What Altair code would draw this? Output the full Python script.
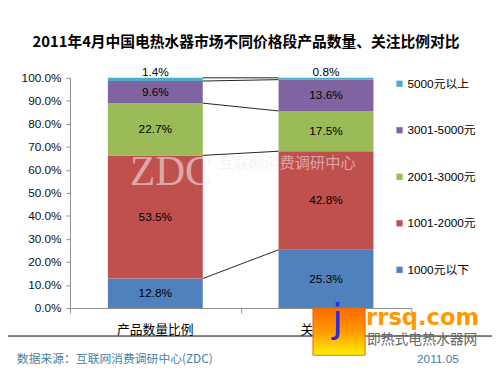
import altair as alt
import pandas as pd

categories = ["产品数量比例", "关注比例"]
series = ["1000元以下", "1001-2000元", "2001-3000元", "3001-5000元", "5000元以上"]
values_qty = [12.8, 53.5, 22.7, 9.6, 1.4]
values_att = [25.3, 42.8, 17.5, 13.6, 0.8]
colors = ["#4F81BD", "#C0504D", "#9BBB59", "#8064A2", "#4BACC6"]

FONT = "Liberation Sans, Arial, Noto Sans CJK SC"
CJK = "Noto Sans CJK SC"
HALF = 0.278

rows = []
for ci, (cat, vals) in enumerate(zip(categories, [values_qty, values_att])):
    cum = 0.0
    for si, (s, v) in enumerate(zip(series, vals)):
        rows.append(dict(cat=cat, idx=ci, series=s, order=si, value=v,
                         start=cum / 100, end=(cum + v) / 100,
                         mid=(cum + v / 2) / 100, label=f"{v:.1f}%"))
        cum += v
df = pd.DataFrame(rows)

conn = []
for si, s in enumerate(series):
    a = df[(df.idx == 0) & (df.order == si)].iloc[0]
    b = df[(df.idx == 1) & (df.order == si)].iloc[0]
    conn.append(dict(series=s, y1=a.end, y2=b.end))
cdf = pd.DataFrame(conn)

cat_df = pd.DataFrame({"cat": categories, "idx": list(range(len(categories)))})

xscale = alt.Scale(domain=[0, 2], nice=False, zero=False)
yscale = alt.Scale(domain=[0, 1], nice=False, zero=False)
xaxis = alt.Axis(values=[0, 1, 2], labels=False, title=None, tickSize=5,
                 domainColor="#8c8c8c", tickColor="#8c8c8c", grid=False)
yaxis = alt.Axis(values=[i / 10 for i in range(11)], format=".1%", title=None,
                 tickSize=4, labelPadding=5, labelFontSize=12, labelColor="#111",
                 labelFont=FONT, domainColor="#8c8c8c", tickColor="#8c8c8c",
                 grid=False)

base = alt.Chart(df).transform_calculate(
    x0=f"datum.idx + 0.5 - {HALF}", x1=f"datum.idx + 0.5 + {HALF}", xc="datum.idx + 0.5"
)

bars = base.mark_rect().encode(
    x=alt.X("x0:Q", scale=xscale, axis=xaxis),
    x2="x1:Q",
    y=alt.Y("start:Q", scale=yscale, axis=yaxis),
    y2="end:Q",
    color=alt.Color("series:N",
                    scale=alt.Scale(domain=series, range=colors),
                    legend=alt.Legend(orient="none", legendX=329, legendY=0, title=None,
                                      values=series[::-1], symbolType="square",
                                      symbolSize=40, symbolStrokeWidth=0,
                                      labelFontSize=12, labelFont=FONT, labelColor="#000",
                                      labelOffset=2, rowPadding=35.3)),
    order="order:Q",
)

labels_main = base.transform_filter("datum.order < 4").mark_text(
    fontSize=12, font=FONT, color="#000"
).encode(
    x=alt.X("xc:Q", scale=xscale, axis=xaxis),
    y=alt.Y("mid:Q", scale=yscale, axis=yaxis),
    text="label:N",
)
labels_top = base.transform_filter("datum.order == 4").mark_text(
    fontSize=12, font=FONT, color="#000", dy=-7
).encode(
    x=alt.X("xc:Q", scale=xscale, axis=xaxis),
    y=alt.Y("mid:Q", scale=yscale, axis=yaxis),
    text="label:N",
)

connectors = alt.Chart(cdf).transform_calculate(
    xa=f"0.5 + {HALF}", xb=f"1.5 - {HALF}"
).mark_rule(color="#222", strokeWidth=1).encode(
    x=alt.X("xa:Q", scale=xscale, axis=xaxis),
    x2="xb:Q",
    y=alt.Y("y1:Q", scale=yscale, axis=yaxis),
    y2="y2:Q",
)

cat_labels = alt.Chart(cat_df).transform_calculate(xc="datum.idx + 0.5").mark_text(
    fontSize=13, font=CJK, color="#000", baseline="middle"
).encode(
    x=alt.X("xc:Q", scale=xscale, axis=xaxis),
    y=alt.value(256),
    text="cat:N",
)

watermark1 = alt.Chart(pd.DataFrame({"t": ["ZDC"]})).mark_text(
    font="Liberation Serif", fontSize=42, color="#f0f0f0", opacity=0.55,
    align="left", baseline="alphabetic"
).encode(x=alt.value(61), y=alt.value(109), text="t:N")
watermark2 = alt.Chart(pd.DataFrame({"t": ["互联网消费调研中心"]})).mark_text(
    font=CJK, fontSize=15.5, color="#ececec", opacity=0.55,
    align="left", baseline="middle"
).encode(x=alt.value(151), y=alt.value(87), text="t:N")

title = alt.Chart(pd.DataFrame({"t": ["2011年4月中国电热水器市场不同价格段产品数量、关注比例对比"]})).mark_text(
    font=CJK, fontSize=15, fontWeight="bold", color="#000", baseline="middle"
).encode(x=alt.value(179), y=alt.value(-36), text="t:N")

sep = alt.Chart(pd.DataFrame({"a": [0]})).mark_rule(color="#000", strokeWidth=1).encode(
    x=alt.value(-63), x2=alt.value(429), y=alt.value(262.5)
)

src = alt.Chart(pd.DataFrame({"t": ["数据来源：互联网消费调研中心(ZDC)"]})).mark_text(
    font=CJK, fontSize=12, color="#4A7EA2", align="left", baseline="middle"
).encode(x=alt.value(-54), y=alt.value(286), text="t:N")
date = alt.Chart(pd.DataFrame({"t": ["2011.05"]})).mark_text(
    font=FONT, fontSize=12, color="#4A7EA2", align="center", baseline="middle"
).encode(x=alt.value(374), y=alt.value(286), text="t:N")

logo_box = alt.Chart(pd.DataFrame({"a": [0]})).mark_rect(
    color=alt.LinearGradient(gradient="linear", x1=0, y1=0, x2=0, y2=1,
                             stops=[alt.GradientStop(color="#FF6A00", offset=0),
                                    alt.GradientStop(color="#FF9A00", offset=0.5),
                                    alt.GradientStop(color="#FFF000", offset=1)]),
    stroke="#E07000", strokeWidth=1
).encode(x=alt.value(247), x2=alt.value(300), y=alt.value(234), y2=alt.value(282))
logo_j = alt.Chart(pd.DataFrame({"t": ["j"]})).mark_text(
    font="DejaVu Sans", fontSize=40, color="#2B2BE6", baseline="alphabetic", align="center"
).encode(x=alt.value(272), y=alt.value(258), text="t:N")
logo_url = alt.Chart(pd.DataFrame({"t": ["rrsq.com"]})).mark_text(
    font="DejaVu Sans", fontSize=23, fontWeight="bold", color="#FF9900",
    baseline="alphabetic", align="left"
).encode(x=alt.value(301), y=alt.value(251), text="t:N")
logo_cn = alt.Chart(pd.DataFrame({"t": ["即热式电热水器网"]})).mark_text(
    font=CJK, fontSize=14, color="#666666", baseline="middle", align="left"
).encode(x=alt.value(302), y=alt.value(267), text="t:N")

chart = alt.layer(
    bars, connectors, labels_main, labels_top, watermark1, watermark2, cat_labels,
    title, sep, src, date, logo_box, logo_j, logo_url, logo_cn
).properties(
    width=347, height=234,
    autosize=alt.AutoSizeParams(type="none"),
    padding={"left": 63, "top": 68, "right": 82, "bottom": 57},
    background="white",
).configure_view(stroke=None)

chart.save("out.html", embed_options={"renderer": "svg", "actions": False})
